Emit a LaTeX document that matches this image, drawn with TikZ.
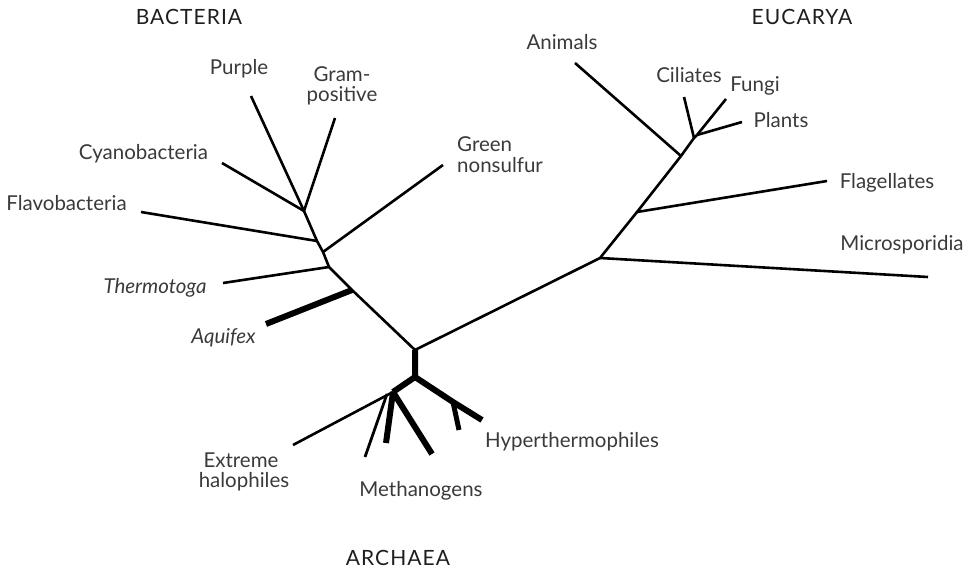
\documentclass[tikz,border=0pt]{standalone}
\usepackage{fontspec}
\setmainfont{Lato}
\definecolor{labelgray}{HTML}{3A3A3A}
\definecolor{domgray}{HTML}{1E1E1E}
\begin{document}
\begin{tikzpicture}[x=1pt,y=-1pt,
  br/.style={line width=2.6pt, line join=round},
  thk/.style={line width=6pt, line join=miter},
  lbl/.style={font=\fontsize{20.5}{22}\selectfont, text=labelgray, inner sep=0pt, anchor=base},
  itl/.style={lbl, font=\fontsize{20.5}{22}\selectfont\itshape},
  dom/.style={font=\fontsize{21}{23}\selectfont\addfontfeature{LetterSpace=5}, text=domgray, inner sep=0pt, anchor=base}]
\useasboundingbox (0,0) rectangle (976,572);

% junctions
\coordinate (A) at (304,211);
\coordinate (B) at (317,241);
\coordinate (C) at (323,252);
\coordinate (D) at (329,267);
\coordinate (E) at (352,290);
\coordinate (F) at (415,350);
\coordinate (G) at (415,377);
\coordinate (H) at (393,392);
\coordinate (I) at (453,402);
\coordinate (J) at (600,258);
\coordinate (K) at (637,212);
\coordinate (L) at (681,156);
\coordinate (M) at (694,138);
\coordinate (N) at (697,135);

% leaf ends
\coordinate (purpleE) at (251,96);
\coordinate (gramE) at (335,118);
\coordinate (cyanoE) at (222,163);
\coordinate (flavoE) at (141,212);
\coordinate (greenE) at (443,165);
\coordinate (thermoE) at (223,283);
\coordinate (aquifexE) at (266,324);
\coordinate (haloE) at (293,445);
\coordinate (methAS) at (387,394);
\coordinate (methAE) at (365,457);
\coordinate (methBE) at (386,443);
\coordinate (methCE) at (432,454);
\coordinate (hypAE) at (482,420);
\coordinate (hypBE) at (459,430);
\coordinate (microE) at (928,277);
\coordinate (flagE) at (827,181);
\coordinate (animE) at (575,63);
\coordinate (cilE) at (684,97);
\coordinate (fungiE) at (726,99);
\coordinate (plantsE) at (742,122);

% bacteria
\draw[br] (F) -- (E) -- (D) -- (C) -- (B) -- (A) -- (purpleE);
\draw[br] (A) -- (gramE);
\draw[br] (A) -- (cyanoE);
\draw[br] (B) -- (flavoE);
\draw[br] (C) -- (greenE);
\draw[br] (D) -- (thermoE);
\draw[thk] (E) -- (aquifexE);

% archaea
\draw[thk] (F) -- (G) -- (H);
\draw[thk] (G) -- (I) -- (hypAE);
\draw[line width=5pt] (I) -- (hypBE);
\draw[br] (H) -- (haloE);
\draw[line width=2.8pt] (methAS) -- (methAE);
\draw[thk] (H) -- (methBE);
\draw[thk] (H) -- (methCE);

% eucarya
\draw[br] (F) -- (J) -- (K) -- (L) -- (M) -- (N);
\draw[br] (J) -- (microE);
\draw[br] (K) -- (flagE);
\draw[br] (L) -- (animE);
\draw[br] (M) -- (cilE);
\draw[br] (N) -- (fungiE);
\draw[br] (N) -- (plantsE);

% domain labels
\node[dom] (bact) at (189,25) {BACTERIA};
\node[dom] (euca) at (802,25) {EUCARYA};
\node[dom] (arch) at (398,565) {ARCHAEA};

% leaf labels
\node[lbl] (purple) at (239,75) {Purple};
\node[lbl, anchor=south, align=center, font=\fontsize{20.5}{19.5}\selectfont] (gram) at (342,105) {Gram-\\positive};
\node[lbl] (cyano) at (143.5,160) {Cyanobacteria};
\node[lbl] (flavo) at (66.5,210) {Flavobacteria};
\node[lbl, anchor=base west] (green1) at (457,152) {Green};
\node[lbl, anchor=base west] (green2) at (457,173) {nonsulfur};
\node[itl] (thermo) at (155,293) {Thermotoga};
\node[itl] (aquifex) at (223.5,343) {Aquifex};
\node[lbl] (halo1) at (241,467) {Extreme};
\node[lbl] (halo2) at (244,487) {halophiles};
\node[lbl] (meth) at (421,496) {Methanogens};
\node[lbl] (hyper) at (572,447) {Hyperthermophiles};
\node[lbl] (anim) at (562,50) {Animals};
\node[lbl] (cil) at (689,83) {Ciliates};
\node[lbl] (fungi) at (755,92) {Fungi};
\node[lbl] (plants) at (781,128) {Plants};
\node[lbl] (flag) at (887,188) {Flagellates};
\node[lbl] (micro) at (902,250) {Microsporidia};
\end{tikzpicture}
\end{document}
